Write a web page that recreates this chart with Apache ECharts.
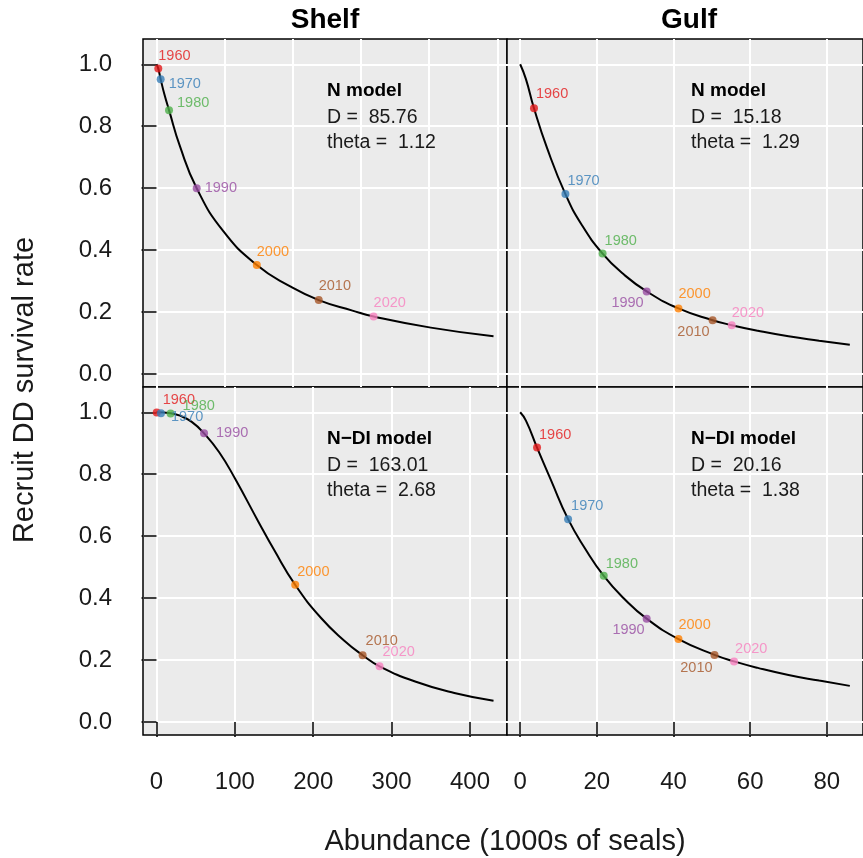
<!DOCTYPE html>
<html>
<head>
<meta charset="utf-8">
<script src="https://cdn.jsdelivr.net/npm/echarts@6/dist/echarts.min.js"></script>
<style>
  html, body { margin: 0; padding: 0; background: #ffffff; }
  #chart { width: 863px; height: 858px; }
</style>
</head>
<body>
<div id="chart"></div>
<script>
// ---- data -------------------------------------------------------------
const years = ['1960', '1970', '1980', '1990', '2000', '2010', '2020'];

// Shelf, N model: decadal abundance (1000s) and recruit DD survival
const shelfNAbund = [2.3, 5.3, 16, 51.3, 128, 207, 277];
const shelfNSurv  = [0.986, 0.952, 0.852, 0.600, 0.352, 0.239, 0.186];
const shelfNCurveX = [0, 2.3, 5.3, 10, 16, 30, 51.3, 85, 128, 170, 207, 250, 277, 350, 430];
const shelfNCurveY = [1.0, 0.986, 0.952, 0.904, 0.852, 0.735, 0.600, 0.462, 0.352, 0.284, 0.239, 0.205, 0.186, 0.150, 0.122];

// Gulf, N model
const gulfNAbund = [3.6, 11.8, 21.5, 33.0, 41.3, 50.2, 55.2];
const gulfNSurv  = [0.858, 0.581, 0.389, 0.267, 0.212, 0.174, 0.158];
const gulfNCurveX = [0, 1.5, 3.6, 7, 11.8, 16, 21.5, 27, 33.0, 41.3, 50.2, 55.2, 62, 70, 78, 86];
const gulfNCurveY = [1.0, 0.952, 0.858, 0.730, 0.581, 0.483, 0.389, 0.322, 0.267, 0.212, 0.174, 0.158, 0.140, 0.122, 0.108, 0.095];

// Shelf, N-DI model
const shelfNDIAbund = [0.3, 5.7, 18, 60.7, 177, 263, 284.6];
const shelfNDISurv  = [0.999, 0.997, 0.996, 0.932, 0.443, 0.216, 0.180];
const shelfNDICurveX = [0, 18, 30, 45, 60.7, 80, 100, 130, 150, 177, 210, 240, 263, 284.6, 330, 380, 430];
const shelfNDICurveY = [1.0, 0.997, 0.989, 0.969, 0.932, 0.871, 0.787, 0.647, 0.556, 0.443, 0.336, 0.262, 0.216, 0.180, 0.131, 0.094, 0.069];

// Gulf, N-DI model
const gulfNDIAbund = [4.4, 12.5, 21.8, 33.0, 41.3, 50.7, 55.8];
const gulfNDISurv  = [0.886, 0.655, 0.472, 0.334, 0.268, 0.217, 0.196];
const gulfNDICurveX = [0, 1.5, 4.4, 8, 12.5, 17, 21.8, 27, 33.0, 41.3, 50.7, 55.8, 62, 70, 78, 86];
const gulfNDICurveY = [1.0, 0.973, 0.886, 0.782, 0.655, 0.559, 0.472, 0.400, 0.334, 0.268, 0.217, 0.196, 0.175, 0.152, 0.134, 0.117];

// tick labels
const shelfTicks = [0, 100, 200, 300, 400];
const gulfTicks = [0, 20, 40, 60, 80];
const survTicks = [0, 0.2, 0.4, 0.6, 0.8, 1.0];
const shelfNGridLines = [0, 87, 174, 261, 348, 435];

// panel text
const regions = ['Shelf', 'Gulf'];
const models = [
  { name: 'N model',    D: '85.76',  theta: '1.12' },
  { name: 'N model',    D: '15.18',  theta: '1.29' },
  { name: 'N\u2212DI model', D: '163.01', theta: '2.68' },
  { name: 'N\u2212DI model', D: '20.16',  theta: '1.38' }
];
const xTitle = 'Abundance (1000s of seals)';
const yTitle = 'Recruit DD survival rate';

// ---- styling ------------------------------------------------------------
const FONT = '"Liberation Sans", Arial, Helvetica, sans-serif';
const yearColors = ['#E41A1C', '#377EB8', '#4DAF4A', '#984EA3', '#FF7F00', '#A65628', '#F781BF'];
const PANEL_BG = '#EBEBEB';

// label offsets [dx, dy, align] from each point centre
const labelOffsets = [
  [[0, -13, 'left'], [8, 5, 'left'], [8, -7, 'left'], [8, 0, 'left'], [0, -13, 'left'], [0, -14, 'left'], [0, -13, 'left']],
  [[2, -14, 'left'], [2, -13, 'left'], [2, -13, 'left'], [-3, 12, 'right'], [0, -14, 'left'], [-3, 12, 'right'], [0, -12, 'left']],
  [[6, -13, 'left'], [10, 4, 'left'], [12, -8, 'left'], [12, 0, 'left'], [2, -13, 'left'], [3, -14, 'left'], [3, -14, 'left']],
  [[2, -13, 'left'], [3, -13, 'left'], [2, -12, 'left'], [-2, 11, 'right'], [0, -14, 'left'], [-2, 13, 'right'], [1, -12, 'left']]
];

const panelW = 364, panelH = 348;
const gridPos = [
  { left: 143, top: 39 },
  { left: 507, top: 39 },
  { left: 143, top: 387 },
  { left: 507, top: 387 }
];
const SHELF_RANGE = [-17.2, 447.2];
const GULF_RANGE = [-3.44, 89.44];
const Y_RANGE = [-0.0416, 1.0816];

const grid = gridPos.map(p => ({
  left: p.left, top: p.top, width: panelW, height: panelH,
  show: true, backgroundColor: PANEL_BG, borderColor: '#000', borderWidth: 1.5
}));

const splitLineStyle = { show: true, lineStyle: { color: '#ffffff', width: 2 } };

function xAxisFor(gridIndex, range, ticks, showLabels, showSplit) {
  return {
    type: 'value', gridIndex, min: range[0], max: range[1], position: 'bottom',
    axisLine: { show: false },
    axisTick: { show: showLabels, customValues: ticks, length: 15, inside: false,
                lineStyle: { color: '#000', width: 1.5 } },
    axisLabel: { show: showLabels, customValues: ticks, margin: 35, color: '#1a1a1a',
                 fontSize: 24, fontFamily: FONT },
    splitLine: showSplit ? splitLineStyle : { show: false }
  };
}
function yAxisFor(gridIndex, showLabels) {
  return {
    type: 'value', gridIndex, min: Y_RANGE[0], max: Y_RANGE[1],
    axisLine: { show: false },
    axisTick: { show: showLabels, customValues: survTicks, length: 15, inside: false,
                lineStyle: { color: '#000', width: 1.5 } },
    axisLabel: { show: showLabels, customValues: survTicks, margin: 31, color: '#1a1a1a',
                 fontSize: 24, fontFamily: FONT, formatter: v => v.toFixed(1) },
    splitLine: splitLineStyle
  };
}

const xAxis = [
  xAxisFor(0, SHELF_RANGE, shelfTicks, false, false),
  xAxisFor(1, GULF_RANGE, gulfTicks, false, true),
  xAxisFor(2, SHELF_RANGE, shelfTicks, true, true),
  xAxisFor(3, GULF_RANGE, gulfTicks, true, true),
  // white vertical grid of the upper Shelf panel
  {
    type: 'value', gridIndex: 0, min: SHELF_RANGE[0], max: SHELF_RANGE[1], position: 'top',
    axisLine: { show: false },
    axisTick: { show: false, customValues: shelfNGridLines },
    axisLabel: { show: false },
    splitLine: splitLineStyle
  }
];
const yAxis = [yAxisFor(0, true), yAxisFor(1, false), yAxisFor(2, true), yAxisFor(3, false)];

const panels = [
  { ax: shelfNAbund, sv: shelfNSurv, cx: shelfNCurveX, cy: shelfNCurveY },
  { ax: gulfNAbund, sv: gulfNSurv, cx: gulfNCurveX, cy: gulfNCurveY },
  { ax: shelfNDIAbund, sv: shelfNDISurv, cx: shelfNDICurveX, cy: shelfNDICurveY },
  { ax: gulfNDIAbund, sv: gulfNDISurv, cx: gulfNDICurveX, cy: gulfNDICurveY }
];

const SYM = 8;
const series = [];
panels.forEach((p, i) => {
  series.push({
    type: 'line', xAxisIndex: i, yAxisIndex: i,
    data: p.cx.map((x, k) => [x, p.cy[k]]),
    smooth: 0.5, showSymbol: false, symbol: 'none',
    lineStyle: { color: '#000', width: 2 }, z: 3, silent: true
  });
  series.push({
    type: 'scatter', xAxisIndex: i, yAxisIndex: i, symbolSize: SYM, z: 4, silent: true,
    data: p.ax.map((x, k) => {
      const off = labelOffsets[i][k];
      return {
        value: [x, p.sv[k]],
        itemStyle: { color: yearColors[k] },
        label: {
          show: true, formatter: years[k],
          position: [SYM / 2 + off[0], SYM / 2 + off[1]],
          align: off[2], verticalAlign: 'middle',
          color: yearColors[k], fontSize: 14.5, fontFamily: FONT
        }
      };
    })
  });
});

// ---- text ---------------------------------------------------------------
const textBase = { fontFamily: FONT, fill: '#1a1a1a' };
const graphic = [];
function addText(x, y, style, extra) {
  graphic.push(Object.assign({ type: 'text', x, y, z: 100, silent: true,
    style: Object.assign({}, textBase, style) }, extra || {}));
}
// column headers
addText(325, 20, { text: regions[0], fontSize: 28, fontWeight: 'bold', fill: '#000', textAlign: 'center', textVerticalAlign: 'middle' });
addText(689, 20, { text: regions[1], fontSize: 28, fontWeight: 'bold', fill: '#000', textAlign: 'center', textVerticalAlign: 'middle' });
// model annotations
const annotPos = [[327, 91], [691, 91], [327, 439], [691, 439]];
models.forEach((m, i) => {
  const [x, y] = annotPos[i];
  addText(x, y, { text: m.name, fontSize: 19, fontWeight: 'bold', fill: '#000', textAlign: 'left', textVerticalAlign: 'middle' });
  addText(x, y + 27, { text: 'D =  ' + m.D, fontSize: 19.5, textAlign: 'left', textVerticalAlign: 'middle' });
  addText(x, y + 52, { text: 'theta =  ' + m.theta, fontSize: 19.5, textAlign: 'left', textVerticalAlign: 'middle' });
});
// axis titles
addText(505, 842, { text: xTitle, fontSize: 29, textAlign: 'center', textVerticalAlign: 'middle' });
addText(25, 390, { text: yTitle, fontSize: 29, textAlign: 'center', textVerticalAlign: 'middle' }, { rotation: Math.PI / 2 });

const chart = echarts.init(document.getElementById('chart'), null, { renderer: 'canvas' });
chart.setOption({
  animation: false,
  backgroundColor: '#ffffff',
  grid, xAxis, yAxis, series, graphic
});
</script>
</body>
</html>
